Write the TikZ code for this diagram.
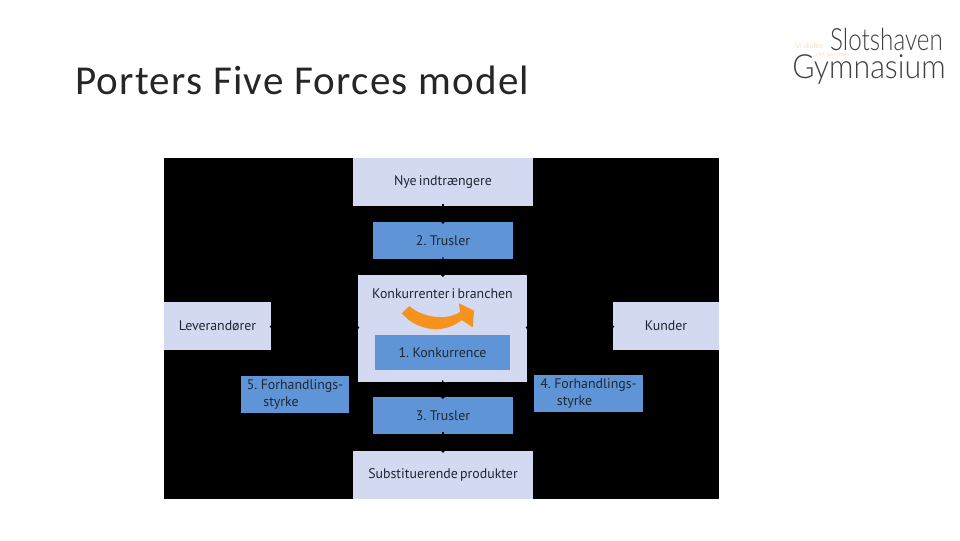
\documentclass[tikz,border=0pt]{standalone}
\usepackage{fontspec}
\usetikzlibrary{arrows.meta}
\setmainfont{PT Sans}[WordSpace=0.6]
\newfontfamily\titlefont{Carlito}
\newfontfamily\logofont{Lato Light}
\definecolor{pale}{HTML}{D2D9F0}
\definecolor{mid}{HTML}{5F95D6}
\definecolor{ink}{HTML}{1E2834}
\definecolor{orng}{HTML}{F6931E}
\tikzset{
  boxbase/.style={anchor=center,inner sep=0pt,text=ink,font=\fontsize{10.4pt}{12.7pt}\selectfont},
  palebox/.style={boxbase,fill=pale},
  midbox/.style={boxbase,fill=mid},
  size/.style 2 args={minimum width={#1*0.75pt},minimum height={#2*0.75pt}},
  conn/.style={black,line width=0.9pt,shorten <=-1.5pt,shorten >=-1.5pt,-{Circle[length=3pt]}},
  hconn/.style={black,line width=0.9pt,shorten <=-1pt,shorten >=-1pt,{Circle[length=3.2pt]}-{Circle[length=3.2pt]}},
  logotext/.style={inner sep=0pt,anchor=west,text=black!75},
}
\begin{document}
\begin{tikzpicture}[x=0.75pt,y=-0.75pt]
\useasboundingbox (0,0) rectangle (960,540);
\fill[white] (0,0) rectangle (960,540);
\fill[black] (164,158) rectangle (719,499);

\node[inner sep=0pt,anchor=west,font=\titlefont\fontsize{30.8pt}{32pt}\selectfont,text=black!85] (title) at (75,80) {\addfontfeature{LetterSpace=3}Porters Five Forces model};

\node[palebox,size={180}{48}] (nye) at (443,182) {Nye indtrængere};
\node[midbox,size={140}{37}] (t2) at (443,240.5) {2. Trusler};
\node[palebox,size={169}{107}] (konk) at (442.5,328.5) {};
\node[boxbase] (konktext) at (442.5,293.5) {Konkurrenter i branchen};
\node[midbox,size={135}{35}] (k1) at (442.5,352.5) {1. Konkurrence};
\node[midbox,size={140}{37}] (t3) at (443,415.5) {3. Trusler};
\node[palebox,size={180}{48}] (sub) at (443,475) {\raisebox{-0.5pt}{Substituerende produkter}};
\node[palebox,size={107}{48}] (lev) at (217.5,326) {Leverandører};
\node[palebox,size={106}{48}] (kun) at (666,326) {Kunder};
\node[midbox,size={108}{37},align=left] (f5) at (295,394.5) {5. Forhandlings-\\\hspace*{1.2em}styrke};
\node[midbox,size={109}{37},align=left] (f4) at (588.5,393.5) {4. Forhandlings-\\\hspace*{1.2em}styrke};

\fill[orng] (409.3,306) .. controls (420,316) and (445,322) .. (460,312)
  -- (459,303.3) -- (474,310.7) -- (472.7,327.3) -- (461.7,320)
  .. controls (445,334) and (418,332) .. (401.7,313.3) -- cycle;

\draw[conn] (nye) -- (t2);
\draw[conn] (t2) -- (konk);
\draw[conn] (konk) -- (t3);
\draw[conn] (t3) -- (sub);
\draw[hconn] (lev) -- (konk);
\draw[hconn] (konk) -- (kun);

\node[logotext,font=\logofont\fontsize{23pt}{24pt}\selectfont,xscale=0.79] (logoa) at (830,39) {Slotshaven};
\node[logotext,font=\logofont\fontsize{25pt}{26pt}\selectfont,xscale=0.91] (logob) at (792,70) {Gymnasium};
\node[inner sep=0pt,anchor=west,text=orng!50,font=\logofont\fontsize{5.4pt}{6pt}\selectfont] (logoc) at (795,46) {Vi skaber};
\node[inner sep=0pt,anchor=west,text=orng!50,font=\logofont\fontsize{4.6pt}{5pt}\selectfont] (logod) at (816,54) {det sammen};
\end{tikzpicture}
\end{document}
